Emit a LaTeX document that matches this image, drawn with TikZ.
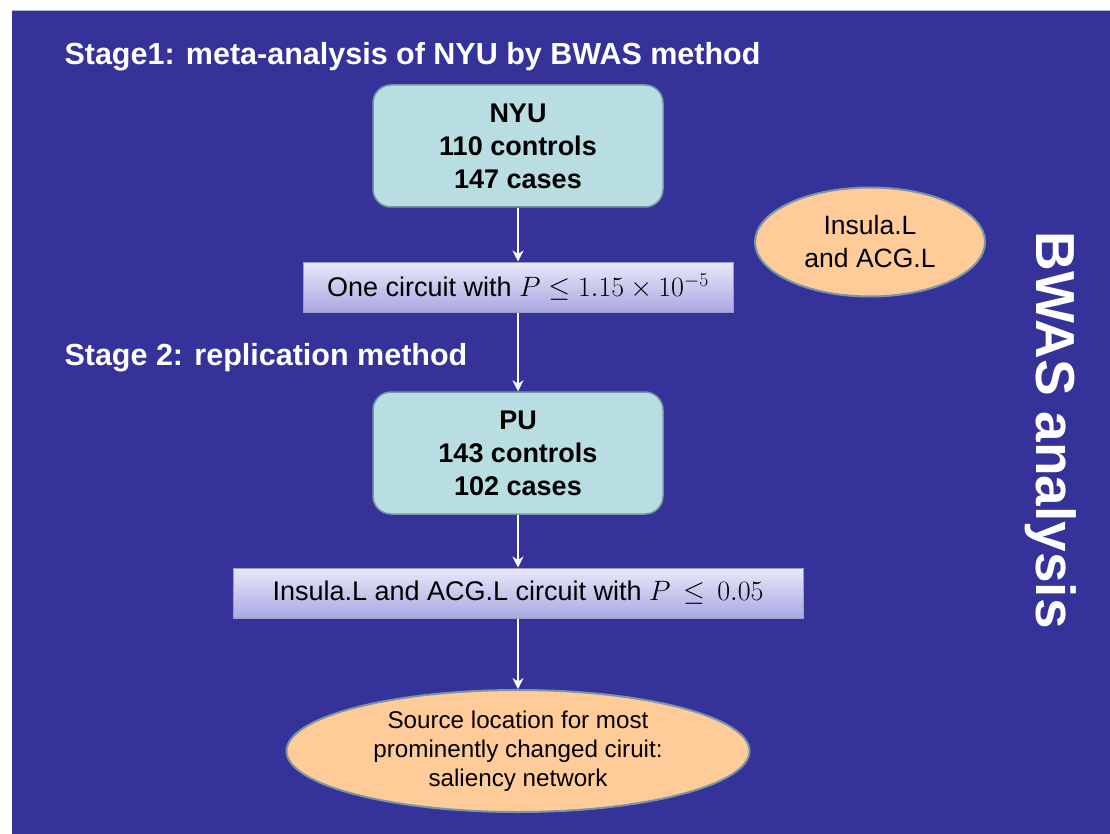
\RequirePackage{fix-cm}
\documentclass[tikz,border=0pt]{standalone}
\usepackage{fontspec}
\setmainfont{Liberation Sans}
\usetikzlibrary{shapes.geometric,arrows.meta}
\definecolor{panelblue}{RGB}{53,51,153}
\definecolor{cohortfill}{RGB}{184,222,226}
\definecolor{edgegray}{RGB}{120,150,165}
\definecolor{peach}{RGB}{255,204,153}
\definecolor{lavtop}{RGB}{232,232,250}
\definecolor{lavbot}{RGB}{170,168,226}
\newcommand{\bigmath}{\fontsize{28}{30}\selectfont}
\begin{document}
\begin{tikzpicture}[x=1pt,y=-1pt,
	cohort/.style={draw=edgegray,line width=1.5pt,fill=cohortfill,rounded corners=18pt,
		minimum width=290pt,minimum height=122pt,align=center,
		font=\bfseries\fontsize{27}{33}\selectfont},
	result/.style={draw=lavbot!70!gray,line width=1pt,top color=lavtop,bottom color=lavbot,
		minimum height=50pt,font=\fontsize{27}{30}\selectfont},
	region/.style={ellipse,draw=edgegray,line width=2pt,fill=peach,align=center,inner sep=0pt},
	heading/.style={anchor=base west,text=white,font=\bfseries\fontsize{30.5}{36}\selectfont},
	flow/.style={-{Stealth[length=11pt,width=11pt]},white,line width=2pt}]
\useasboundingbox (0,0) rectangle (1110,834);
\fill[white] (0,0) rectangle (1110,834);
\fill[panelblue] (12,10) rectangle (1110,834);
\draw[edgegray!60!white,line width=1pt] (12,10.5)--(1110,10.5);
% stage 1
\node[heading] (stage1) at(61,65){Stage1: meta-analysis of NYU by BWAS method};
\node[cohort] (nyu) at(518,146){NYU\\110 controls\\147 cases};
\node[result,minimum width=430pt] (res1) at(518,287){One circuit with {\bigmath$P\le1.15\times10^{-5}$}};
\node[region,minimum width=230pt,minimum height=109pt,font=\fontsize{26.5}{33}\selectfont] (insula) at(870,242){Insula.L\\and ACG.L};
% stage 2
\node[heading] (stage2) at(61,365){Stage 2: replication method};
\node[cohort] (pu) at(518,453){PU\\143 controls\\102 cases};
\node[result,minimum width=570pt] (res2) at(518,593){Insula.L and ACG.L circuit with {\bigmath$P\,\le\,0.05$}};
\node[region,minimum width=463pt,minimum height=122pt,font=\fontsize{24.2}{29}\selectfont] (source) at(518,751){Source location for most\\prominently changed ciruit:\\saliency network};
\node[rotate=-90,text=white,font=\bfseries\fontsize{55}{60}\selectfont] (bwas) at(1051,430){BWAS analysis};
% arrows
\draw[flow](nyu)--(res1);
\draw[flow](res1)--(pu);
\draw[flow](pu)--(res2);
\draw[flow](res2)--(source);
\end{tikzpicture}
\end{document}
